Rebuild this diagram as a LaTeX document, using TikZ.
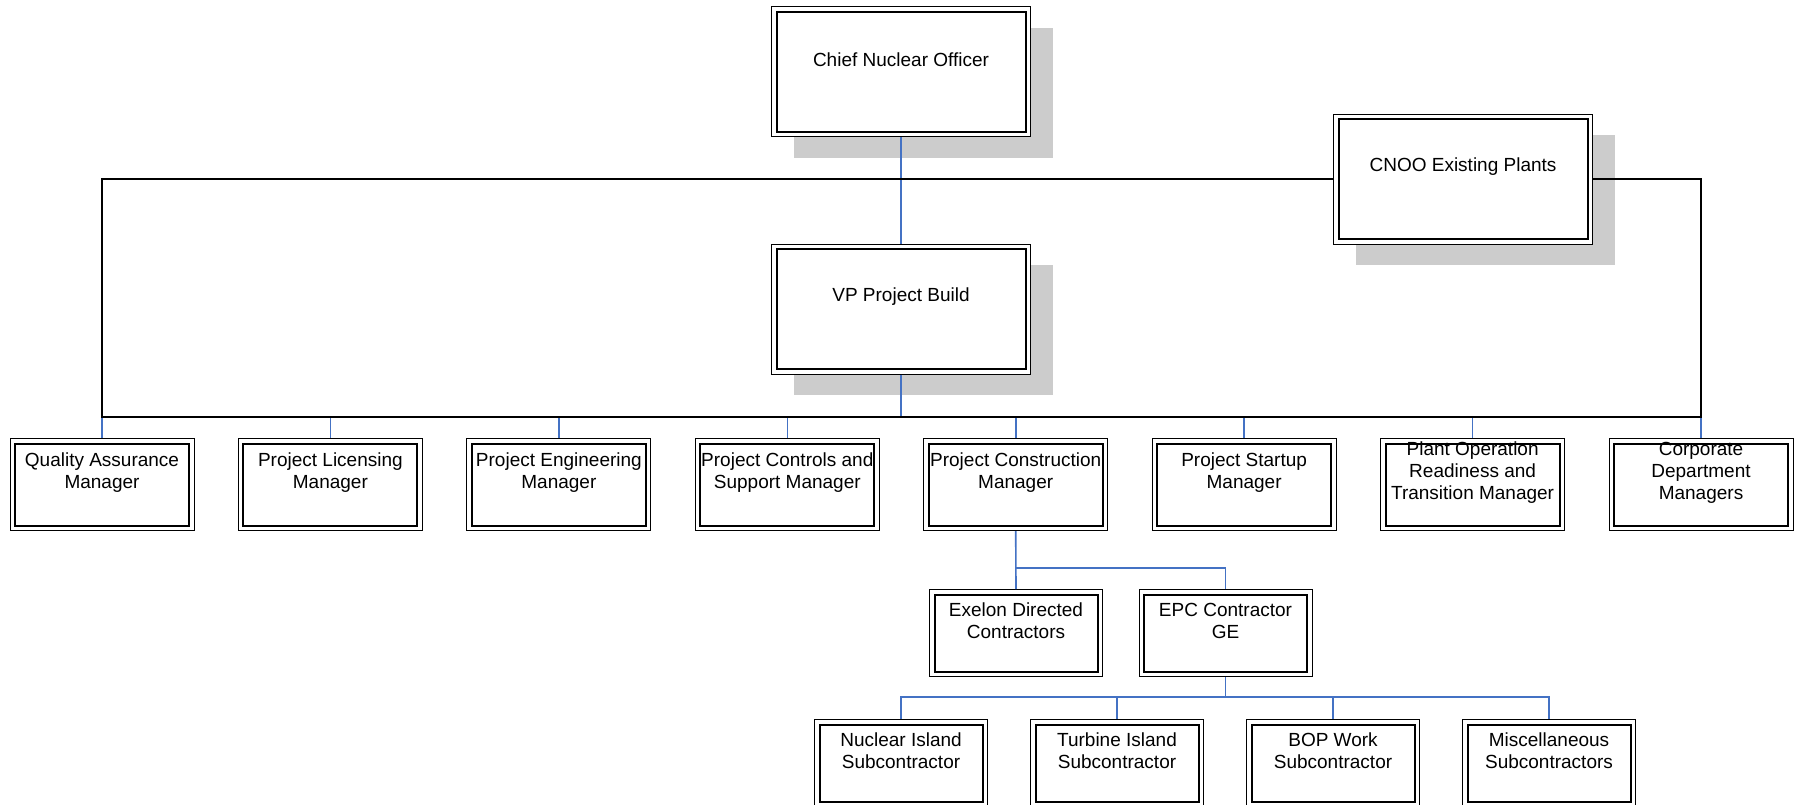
\documentclass[tikz,border=0pt]{standalone}
\usepackage{fontspec}
\setmainfont{Liberation Sans}
\usetikzlibrary{shadows}

\definecolor{linkblue}{RGB}{68,114,196}
\definecolor{shadowgray}{RGB}{204,204,204}

\tikzset{
  orgbox/.style={draw, line width=0.5pt, fill=white, inner sep=0pt,
    path picture={\draw[line width=1pt]
      ([shift={(2.5pt,2.5pt)}]path picture bounding box.south west) rectangle
      ([shift={(-2.5pt,-2.5pt)}]path picture bounding box.north east);}},
  bigbox/.style={orgbox, minimum width=129.5pt, minimum height=65pt,
    drop shadow={shadow xshift=11pt, shadow yshift=-10.5pt, fill=shadowgray, opacity=1}},
  mgrbox/.style={orgbox, minimum width=92pt, minimum height=46pt},
  subbox/.style={orgbox, minimum width=86.5pt, minimum height=43.5pt},
  boxtext/.style={font=\fontsize{9.5}{11}\selectfont, align=center, yshift=6pt},
  link/.style={draw=linkblue, line width=0.8pt},
  bus/.style={draw=black, line width=0.9pt}
}

\begin{document}
\begin{tikzpicture}[x=0.5pt, y=-0.5pt]
\useasboundingbox (0,0) rectangle (1797,804);

% top boxes
\node[bigbox, label={[boxtext]center:Chief Nuclear Officer}] (cno) at (901,71.5) {};
\node[bigbox, label={[boxtext]center:VP Project Build}] (vp) at (901,309) {};
\node[bigbox, label={[boxtext]center:CNOO Existing Plants}] (cnoo) at (1463,179) {};

% managers
\node[mgrbox, label={[boxtext]center:Quality Assurance\\Manager}] (qa) at (102,484.5) {};
\node[mgrbox, label={[boxtext]center:Project Licensing\\Manager}] (plic) at (330.4,484.5) {};
\node[mgrbox, label={[boxtext]center:Project Engineering\\Manager}] (peng) at (558.9,484.5) {};
\node[mgrbox, label={[boxtext]center:Project Controls and\\Support Manager}] (pctl) at (787.3,484.5) {};
\node[mgrbox, label={[boxtext]center:Project Construction\\Manager}] (pcm) at (1015.7,484.5) {};
\node[mgrbox, label={[boxtext]center:Project Startup\\Manager}] (psu) at (1244.1,484.5) {};
\node[mgrbox, label={[boxtext]center:Plant Operation\\Readiness and\\Transition Manager}] (por) at (1472.6,484.5) {};
\node[mgrbox, label={[boxtext]center:Corporate\\Department\\Managers}] (cdm) at (1701,484.5) {};

% contractors
\node[subbox, label={[boxtext]center:Exelon Directed\\Contractors}] (edc) at (1016,633) {};
\node[subbox, label={[boxtext]center:EPC Contractor\\GE}] (epc) at (1225.5,633) {};

% subcontractors
\node[subbox, label={[boxtext]center:Nuclear Island\\Subcontractor}] (nis) at (901,763) {};
\node[subbox, label={[boxtext]center:Turbine Island\\Subcontractor}] (tis) at (1117,763) {};
\node[subbox, label={[boxtext]center:BOP Work\\Subcontractor}] (bop) at (1333,763) {};
\node[subbox, label={[boxtext]center:Miscellaneous\\Subcontractors}] (misc) at (1549,763) {};

\coordinate (busl) at (102,417);
\coordinate (busr) at (1701,417);
\coordinate (csplit) at (1016,568);
\coordinate (ssplit) at (1225.5,697);

% blue links
\draw[link] (cno.south) -- (vp.north);
\draw[link] (vp.south) -- (vp.south |- busl);
\draw[link] (qa.north |- busl) -- (qa.north);
\draw[link] (plic.north |- busl) -- (plic.north);
\draw[link] (peng.north |- busl) -- (peng.north);
\draw[link] (pctl.north |- busl) -- (pctl.north);
\draw[link] (pcm.north |- busl) -- (pcm.north);
\draw[link] (psu.north |- busl) -- (psu.north);
\draw[link] (por.north |- busl) -- (por.north);
\draw[link] (cdm.north |- busl) -- (cdm.north);
\draw[link] (pcm.south) -- (edc.north);
\draw[link] (csplit) -| (epc.north);
\draw[link] (epc.south) -- (ssplit);
\draw[link] (ssplit) -| (nis.north);
\draw[link] (ssplit) -| (tis.north);
\draw[link] (ssplit) -| (bop.north);
\draw[link] (ssplit) -| (misc.north);

% black frame round the managers
\draw[bus] (cnoo.west) -| (busl) -- (busr) |- (cnoo.east);
\end{tikzpicture}
\end{document}
